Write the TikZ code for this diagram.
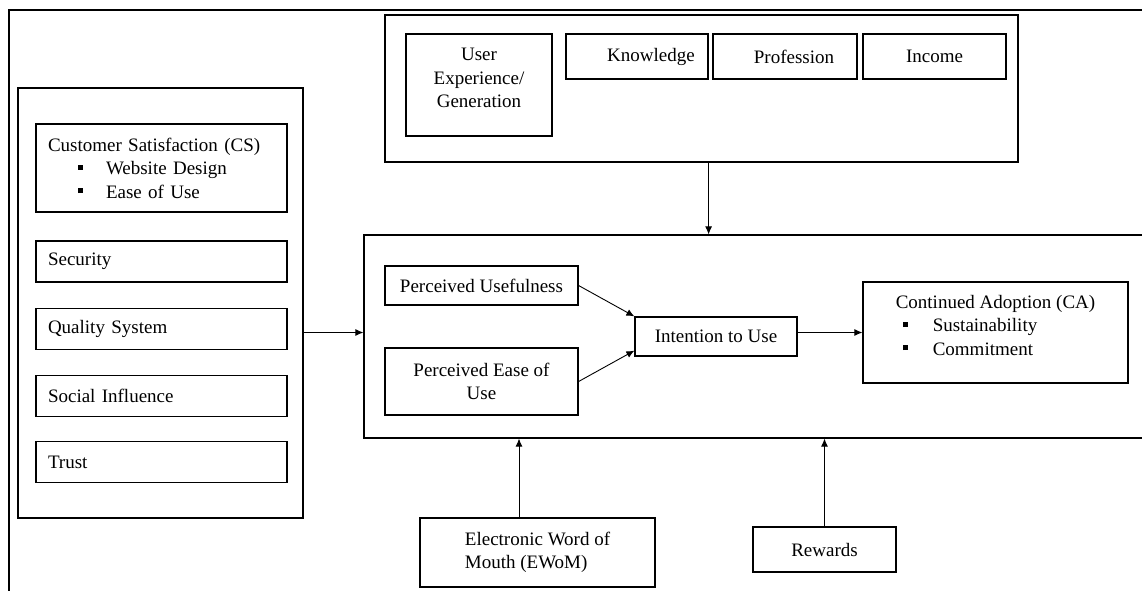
\documentclass[tikz,border=0pt]{standalone}
\usepackage{fontspec}
\setmainfont{Liberation Serif}
\usetikzlibrary{arrows.meta}
\newcommand{\sqbul}{\rule[5pt]{5pt}{5pt}}
\tikzset{
  box/.style={draw, line width=1.2pt, inner sep=0pt, align=center},
  itembox/.style={box, align=left, inner xsep=12pt, text width=227pt, minimum width=251pt},
  arr/.style={-{Latex[length=8pt,width=7pt]}, line width=0.9pt},
  frame/.style={line width=1.8pt},
}
\begin{document}
\begin{tikzpicture}[x=1pt,y=-1pt,font=\fontsize{19}{23.5}\selectfont]
  \useasboundingbox (0,0) rectangle (1142,590);
  \clip (0,0) rectangle (1142,590);
  % outer frame, runs off the right and bottom edges
  \draw[frame] (9,600) -- (9,10) -- (1150,10);

  % left block of factors
  \node[box, minimum width=285pt, minimum height=430pt] (lbox) at (160.5,303) {};
  \node[itembox, minimum height=88pt] (cs) at (161.5,168) {Customer Satisfaction (CS)\\\hspace*{30pt}\sqbul\hspace*{23pt}Website Design\\\hspace*{30pt}\sqbul\hspace*{23pt}Ease of Use};
  \foreach \y/\nm/\lab in {261.5/sec/Security, 329/qs/Quality System, 396/si/Social Influence, 462/tr/Trust}
    \node[itembox, minimum height=41pt] (\nm) at (161.5,\y) {\lab};

  % top block (moderators)
  \node[box, minimum width=633pt, minimum height=147pt] (tbox) at (701.5,88.5) {};
  \node[box, minimum width=146pt, minimum height=102pt] (ueg) at (479,85) {};
  \node[align=center] (uegtxt) at ([yshift=7pt]ueg.center) {User\\Experience/\\Generation};
  \node[box, minimum width=142pt, minimum height=45pt] (knw) at (637,56.5) {\hspace*{28pt}Knowledge};
  \node[box, minimum width=144pt, minimum height=45pt] (prof) at (785,56.5) {\hspace*{18pt}Profession};
  \node[box, minimum width=143pt, minimum height=45pt] (inc) at (934.5,56.5) {Income};

  % centre block
  \node[box, minimum width=786pt, minimum height=203pt] (cbox) at (757,336.5) {};
  \node[box, minimum width=193pt, minimum height=39pt] (pu) at (481.5,285.5) {Perceived Usefulness};
  \node[box, minimum width=193pt, minimum height=67pt] (peu) at (481.5,381.5) {Perceived Ease of\\Use};
  \node[box, minimum width=162pt, minimum height=39pt] (itu) at (716,336.5) {Intention to Use};
  \node[box, minimum width=265pt, minimum height=101pt] (ca) at (995.5,332.5) {};
  \node[align=left] (catxt) at ([yshift=7.5pt]ca.center) {Continued Adoption (CA)\\\hspace*{7pt}\sqbul\hspace*{25pt}Sustainability\\\hspace*{7pt}\sqbul\hspace*{25pt}Commitment};

  % bottom inputs
  \node[box, minimum width=235pt, minimum height=69pt, align=left] (ewom) at (537.5,552.5) {Electronic Word of\\Mouth (EWoM)};
  \node[box, minimum width=143pt, minimum height=45pt] (rew) at (824.5,549.5) {Rewards};

  % arrows
  \draw[arr] (lbox.east |- ca) -- (cbox.west |- ca);
  \draw[arr] (tbox.south -| knw.east) -- (cbox.north -| knw.east);
  \draw[arr] (pu.east) -- (itu.north west);
  \draw[arr] (peu.east) -- ([yshift=6pt]itu.south west);
  \draw[arr] (itu.east |- ca) -- (ca.west);
  \draw[arr] ([xshift=-18.5pt]ewom.north) -- ([xshift=-18.5pt]ewom.north |- cbox.south);
  \draw[arr] (rew.north) -- (rew.north |- cbox.south);
\end{tikzpicture}
\end{document}
